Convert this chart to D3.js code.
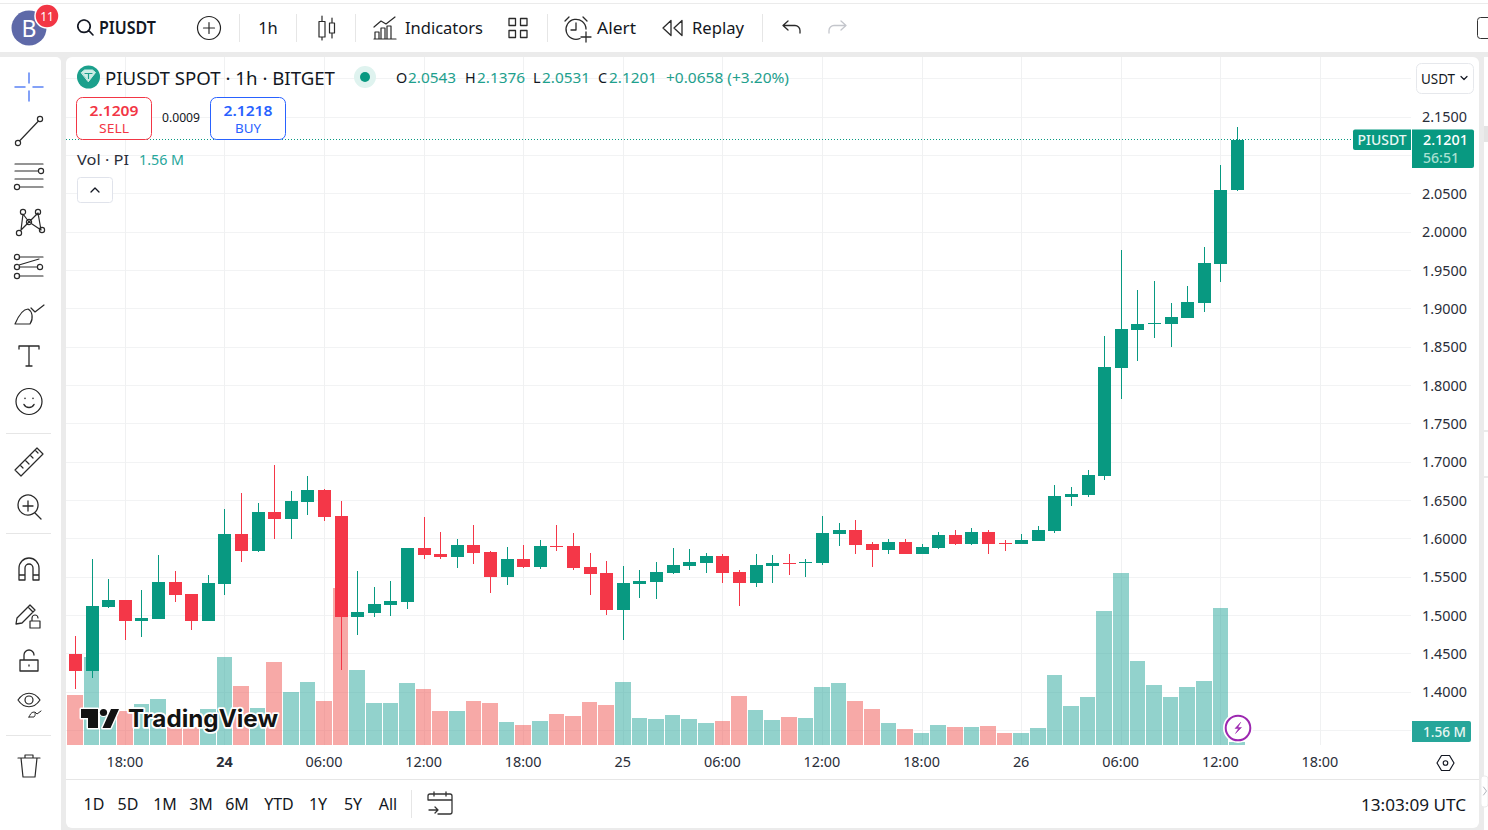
<!DOCTYPE html>
<html><head><meta charset="utf-8">
<script src="https://cdn.jsdelivr.net/npm/d3@7/dist/d3.min.js"></script>
<style>html,body{margin:0;padding:0;background:#ebebeb;overflow:hidden}svg{display:block}text{font-family:"Noto Sans",sans-serif}</style>
</head><body><svg id="c" width="1488" height="830"></svg>
<script>
const opens=[1.4499,1.4277,1.5112,1.5203,1.4929,1.4956,1.5438,1.5281,1.4929,1.5412,1.6064,1.5842,1.6351,1.6259,1.6481,1.6637,1.6298,1.4982,1.5034,1.5138,1.5177,1.5881,1.5803,1.5764,1.5920,1.5829,1.5503,1.5738,1.5633,1.5907,1.5907,1.5633,1.5555,1.5073,1.5412,1.5438,1.5555,1.5647,1.5686,1.5777,1.5568,1.5425,1.5647,1.5686,1.5686,1.5686,1.6064,1.6116,1.5933,1.5855,1.5959,1.5803,1.5881,1.6051,1.5933,1.6090,1.5946,1.5933,1.5972,1.6103,1.6546,1.6572,1.6820,1.8228,1.8723,1.8802,1.8802,1.8880,1.9076,1.9584,2.0543];
const highs=[1.4734,1.5738,1.5477,1.5203,1.5334,1.5790,1.5581,1.5281,1.5529,1.6390,1.6598,1.6468,1.6963,1.6624,1.6820,1.6650,1.6494,1.5581,1.5373,1.5451,1.5881,1.6285,1.6090,1.5999,1.6181,1.5842,1.5894,1.5920,1.5985,1.6181,1.6077,1.5816,1.5712,1.5647,1.5594,1.5699,1.5881,1.5868,1.5816,1.5803,1.5594,1.5803,1.5790,1.5803,1.5738,1.6298,1.6207,1.6246,1.5959,1.5999,1.5999,1.5933,1.6090,1.6116,1.6142,1.6116,1.5985,1.6064,1.6168,1.6703,1.6676,1.6898,1.8645,1.9766,1.9245,1.9362,1.9076,1.9297,1.9806,2.0875,2.1376];
const lows=[1.4043,1.4186,1.5099,1.4682,1.4721,1.4956,1.5177,1.4812,1.4929,1.5268,1.5699,1.5829,1.5999,1.5999,1.6311,1.6233,1.4291,1.4747,1.4982,1.4995,1.5086,1.5738,1.5738,1.5620,1.5673,1.5294,1.5399,1.5620,1.5607,1.5842,1.5594,1.5268,1.5008,1.4682,1.5229,1.5216,1.5542,1.5594,1.5555,1.5425,1.5125,1.5373,1.5425,1.5529,1.5503,1.5660,1.5907,1.5803,1.5633,1.5803,1.5803,1.5803,1.5868,1.5920,1.5920,1.5803,1.5842,1.5933,1.5972,1.6077,1.6429,1.6546,1.6768,1.7824,1.8319,1.8619,1.8502,1.8880,1.8958,1.9349,2.0531];
const closes=[1.4277,1.5125,1.5203,1.4929,1.4969,1.5438,1.5268,1.4929,1.5425,1.6064,1.5842,1.6351,1.6259,1.6494,1.6637,1.6285,1.4982,1.5047,1.5151,1.5190,1.5881,1.5790,1.5764,1.5920,1.5816,1.5503,1.5738,1.5633,1.5907,1.5894,1.5620,1.5542,1.5073,1.5425,1.5451,1.5568,1.5660,1.5699,1.5777,1.5555,1.5425,1.5660,1.5686,1.5673,1.5699,1.6077,1.6116,1.5920,1.5855,1.5959,1.5803,1.5894,1.6051,1.5933,1.6090,1.5933,1.5933,1.5985,1.6116,1.6559,1.6585,1.6833,1.8241,1.8736,1.8802,1.8815,1.8893,1.9089,1.9597,2.0549,2.1201];
const volumes=[23.6,41.6,13.7,16.1,19.4,21.8,8.5,8.5,17.0,41.6,27.9,17.5,39.3,25.1,29.8,20.8,74.3,35.5,19.9,19.9,29.3,26.5,16.1,16.1,20.8,19.9,10.9,9.5,11.4,14.7,13.7,20.3,18.9,29.8,12.8,12.3,14.2,12.3,10.4,11.4,23.2,16.6,11.8,13.2,12.8,27.4,29.3,20.8,17.0,10.4,7.6,5.7,9.5,8.5,8.5,9.0,5.7,5.7,8.0,33.1,18.4,22.7,63.4,81.4,39.7,28.4,22.7,27.4,30.3,64.8,1.56];
const volUp=[0,1,1,0,1,1,0,0,1,1,0,1,0,1,1,0,0,1,1,1,1,0,0,1,0,0,1,0,1,0,0,0,0,1,1,1,1,1,1,0,0,1,1,0,1,1,1,0,0,1,0,1,1,0,1,0,0,1,1,1,1,1,1,1,1,1,1,1,1,1,1];
const priceTicks=[2.15,2.05,2.00,1.95,1.90,1.85,1.80,1.75,1.70,1.65,1.60,1.55,1.50,1.45,1.40];
const priceGrid=[2.20,2.15,2.10,2.05,2.00,1.95,1.90,1.85,1.80,1.75,1.70,1.65,1.60,1.55,1.50,1.45,1.40,1.35];
const timeIdx=[3,9,15,21,27,33,39,45,51,57,63,69,75];
const timeLabels=["18:00","24","06:00","12:00","18:00","25","06:00","12:00","18:00","26","06:00","12:00","18:00"];
const lastPrice=2.1201;
const rangeLabels=["1D","5D","1M","3M","6M","YTD","1Y","5Y","All"];
const rangeX=[94,128,165,201,237,279,318,353,388];

const GREEN="#089981",RED="#f43748",INK="#131722",TXT="#2a2e39";
const svg=d3.select("#c");
const x=d3.scaleLinear().domain([0,70]).range([75.5,1237.4]);
const y=d3.scaleLinear().domain([1.40,2.15]).range([692.3,117]);
const vy=d3.scaleLinear().domain([0,1.56]).range([745,741.7]);
const px=v=>Math.round(v)+.5;

function T(s,xx,yy,o={}){
  const t=svg.append("text").attr("x",xx).attr("y",yy-1).text(s)
    .attr("font-size",o.s||14).attr("fill",o.c||TXT).attr("text-anchor",o.a||"start")
    .attr("dominant-baseline","central");
  if(o.w)t.attr("font-weight",o.w);
  if(o.l){t.attr("textLength",o.l).attr("lengthAdjust","spacingAndGlyphs");}
  return t;
}
function R(a,b,w,h,f,o={}){
  const r=svg.append("rect").attr("x",a).attr("y",b).attr("width",w).attr("height",h).attr("fill",f);
  if(o.r)r.attr("rx",o.r);
  if(o.st)r.attr("stroke",o.st);
  return r;
}
function I(cx,cy,d,o={}){
  return svg.append("path").attr("transform",`translate(${cx},${cy})`).attr("d",d)
   .attr("fill",o.f||"none").attr("stroke",o.c||"#2a2a2a").attr("stroke-width",o.sw||1.2)
   .attr("stroke-linejoin","round").attr("stroke-linecap","round");
}
// panels
R(0,0,1488,830,"#ebebeb");
R(0,0,1488,3,"#ffffff");
R(0,4,1488,48,"#ffffff");
svg.append("path").attr("d","M0,57H56a5,5 0 0 1 5,5V830H0Z").attr("fill","#fff");
R(66,57,1413,771,"#ffffff",{r:6});
R(1484,57,4,773,"#ffffff");
R(1484,126,4,16,"#e4e4e4");
[430,476].forEach(v=>R(1484,v,4,2,"#ebebeb"));
R(1481,776,7,31,"#ffffff",{r:3,st:"#ebebeb"});
I(1485,791,"M-1.5,-4L1.5,0L-1.5,4",{c:"#b2b5be",sw:1});

// grid
const g=svg.append("g").attr("shape-rendering","crispEdges");
g.selectAll(".h").data(priceGrid).join("line").attr("x1",66).attr("x2",1411)
 .attr("y1",d=>px(y(d)-.5)).attr("y2",d=>px(y(d)-.5)).attr("stroke","#f2f3f4");
g.selectAll(".v").data(timeIdx).join("line").attr("y1",57).attr("y2",745)
 .attr("x1",d=>px(x(d)-.5)).attr("x2",d=>px(x(d)-.5)).attr("stroke","#f0f1f2");

// volume
svg.append("g").attr("shape-rendering","crispEdges").selectAll("rect").data(volumes).join("rect")
 .attr("x",(d,i)=>Math.round(x(i)-8.3)).attr("width",(d,i)=>Math.round(x(i)+7.3)-Math.round(x(i)-8.3))
 .attr("y",d=>vy(d)).attr("height",d=>745-vy(d))
 .attr("fill",(d,i)=>volUp[i]?"#26a69a":"#ef5350").attr("fill-opacity",.5);

// candles
const cg=svg.append("g").attr("shape-rendering","crispEdges");
const idx=d3.range(opens.length);
cg.selectAll(".w").data(idx).join("rect")
 .attr("x",i=>Math.round(x(i)-.5)).attr("width",1)
 .attr("y",i=>y(highs[i])).attr("height",i=>y(lows[i])-y(highs[i]))
 .attr("fill",i=>closes[i]>=opens[i]?GREEN:RED);
cg.selectAll(".b").data(idx).join("rect")
 .attr("x",i=>Math.round(x(i)-.5)-6).attr("width",13)
 .attr("y",i=>y(Math.max(opens[i],closes[i])))
 .attr("height",i=>Math.max(1,Math.abs(y(opens[i])-y(closes[i]))))
 .attr("fill",i=>closes[i]>=opens[i]?GREEN:RED);

// price line
svg.append("line").attr("x1",66).attr("x2",1353).attr("y1",px(y(lastPrice)-.5)).attr("y2",px(y(lastPrice)-.5))
 .attr("stroke",GREEN).attr("stroke-dasharray","1 2");

// axes
const ya=svg.append("g").attr("transform","translate(1422,0)")
 .call(d3.axisRight(y).tickValues(priceTicks).tickFormat(d3.format(".4f")).tickSize(0).tickPadding(0));
ya.select(".domain").remove();
ya.selectAll("text").attr("x",0).attr("font-size",14.4).attr("fill",TXT).attr("font-family",'"Noto Sans",sans-serif');
const xa=svg.append("g").attr("transform","translate(-1,757)")
 .call(d3.axisBottom(x).tickValues(timeIdx).tickFormat((d,i)=>timeLabels[i]).tickSize(0).tickPadding(0));
xa.select(".domain").remove();
xa.selectAll("text").attr("font-size",14.4).attr("fill",TXT).attr("font-family",'"Noto Sans",sans-serif')
  .attr("font-weight",(d,i)=>timeLabels[i]=="24"?700:400);
R(66,779,1413,1,"#e6e6e6");

// tags
svg.append("path").attr("d","M1355,129.5H1411V150H1355a2,2 0 0 1 -2,-2V131.5a2,2 0 0 1 2,-2Z").attr("fill",GREEN);
T("PIUSDT",1382,140,{s:14,c:"#e8f7f3",a:"middle",l:49,w:500});
svg.append("path").attr("d","M1412,129.5H1472a2,2 0 0 1 2,2V166a2,2 0 0 1 -2,2H1412Z").attr("fill",GREEN);
T("2.1201",1423,140,{s:14.4,c:"#ffffff",l:45,w:500});
T("56:51",1423,158,{s:14.4,c:"#a8e0d2",l:36,w:500});
svg.append("path").attr("d","M1412,721H1469a2,2 0 0 1 2,2V740a2,2 0 0 1 -2,2H1412Z").attr("fill","#26a69a");
T("1.56 M",1423,732,{s:14.4,c:"#e8f7f3",l:43,w:500});

// USDT button
R(1416.5,63.5,57,30,"#fff",{r:5,st:"#e6e8ec"});
T("USDT",1421,79,{s:14.4,c:INK,l:34});
I(1464,78,"M-3,-1.5L0,1.5L3,-1.5",{c:"#131722",sw:1.2});

// legend
svg.append("circle").attr("cx",88.5).attr("cy",77).attr("r",11.5).attr("fill","#1ba08c");
I(88.5,76.5,"M-7,-4L-4,-6.5H4L7,-4L0,5Z",{f:"#cdeee6",c:"#cdeee6",sw:1});
I(88.5,76.5,"M-3.5,-3H3.5M0,-3V2",{c:"#1ba08c",sw:1.2});
T("PIUSDT SPOT · 1h · BITGET",105,78,{s:18.5,c:INK,l:230});
svg.append("circle").attr("cx",365).attr("cy",77).attr("r",11).attr("fill","#dff3ef");
svg.append("circle").attr("cx",365).attr("cy",77).attr("r",5).attr("fill",GREEN);
const LEG="#1ea08d";
T("O",396,78,{s:14.4,c:INK}); T("2.0543",408,78,{s:14.4,c:LEG,l:48});
T("H",465,78,{s:14.4,c:INK}); T("2.1376",477,78,{s:14.4,c:LEG,l:48});
T("L",533,78,{s:14.4,c:INK}); T("2.0531",542,78,{s:14.4,c:LEG,l:48});
T("C",598,78,{s:14.4,c:INK}); T("2.1201",609,78,{s:14.4,c:LEG,l:48});
T("+0.0658 (+3.20%)",666,78,{s:14.4,c:LEG,l:123});
// sell/buy
R(76.5,97.5,75,42,"#fff",{r:6,st:"#f23645"});
T("2.1209",114,111,{s:14.4,c:"#f23645",a:"middle",w:600,l:49});
T("SELL",114,129,{s:13,c:"#f23645",a:"middle",l:30});
T("0.0009",181,118.5,{s:12,c:INK,a:"middle",l:38});
R(210.5,97.5,75,42,"#fff",{r:6,st:"#2962ff"});
T("2.1218",248,111,{s:14.4,c:"#2962ff",a:"middle",w:600,l:49});
T("BUY",248,129,{s:13,c:"#2962ff",a:"middle",l:26});
T("Vol · PI",77,160,{s:14.4,c:TXT,l:52});
T("1.56 M",139,160,{s:14.4,c:"#26a69a",l:45});
R(77.5,177.5,35,25,"#fff",{r:3,st:"#e0e3eb"});
I(95,190,"M-4,2L0,-2L4,2",{c:"#131722",sw:1.3});

// TradingView logo
svg.append("path").attr("d","M81,709H98V728H88V718H81ZM111,709H119L110.5,728H102.5Z")
  .attr("fill","#131313").attr("stroke","#fff").attr("stroke-width",3).attr("paint-order","stroke").attr("stroke-linejoin","round");
svg.append("circle").attr("cx",103.5).attr("cy",712.5).attr("r",3.6).attr("fill","#131313").attr("stroke","#fff").attr("stroke-width",2).attr("paint-order","stroke");
const tv=T("TradingView",128,719.5,{s:24,c:"#131313",w:700,l:150}).style("font-family","Inter");
tv.attr("stroke","#fff").attr("stroke-width",3.5).style("paint-order","stroke fill").attr("stroke-linejoin","round");

// lightning
svg.append("circle").attr("cx",1238).attr("cy",728).attr("r",15).attr("fill","#fff");
svg.append("circle").attr("cx",1238).attr("cy",728).attr("r",12.3).attr("fill","#fff").attr("stroke","#9c27b0").attr("stroke-width",2);
I(1238,728,"M2.5,-5.5L-3,0.5H0.5L-2.5,5.5L3.5,-0.5H0Z",{f:"#9c27b0",c:"#9c27b0",sw:.5});

// settings hexagon
I(1445.5,763,"M-8.5,0L-4,-7.5H4L8.5,0L4,7.5H-4Z",{c:"#131722",sw:1.2});
svg.append("circle").attr("cx",1445.5).attr("cy",763).attr("r",2.3).attr("fill","none").attr("stroke","#131722").attr("stroke-width",1.1);

// bottom bar
rangeLabels.forEach((t,i)=>T(t,rangeX[i],805,{s:16,c:INK,a:"middle"}));
R(411,790,1,28,"#e6e6e6");
I(440,804,"M-12,-4V-8a2,2 0 0 1 2,-2H10a2,2 0 0 1 2,2V8a2,2 0 0 1 -2,2H-2M-12,-4H12M-6,-12V-8M6,-12V-8M-11,6H-2M-5,3L-2,6L-5,9",{sw:1.3,c:"#333"});
T("13:03:09 UTC",1466,805,{s:16.5,c:INK,a:"end",l:105});

// top toolbar
svg.append("circle").attr("cx",29).attr("cy",28).attr("r",17.5).attr("fill","#5e69a8");
T("B",29,29,{s:23,c:"#fff",a:"middle"});
svg.append("circle").attr("cx",47).attr("cy",16).attr("r",12).attr("fill","#f23645").attr("stroke","#fff").attr("stroke-width",1.5);
T("11",47,17,{s:12,c:"#fff",a:"middle"});
I(85,27,"M-1,-7a6.2,6.2 0 1 0 .01,0M3.6,3.4L8,8",{c:"#131722",sw:1.6});
T("PIUSDT",99,28,{s:17,c:INK,w:600,l:57});
svg.append("circle").attr("cx",209).attr("cy",28).attr("r",11.5).attr("fill","none").attr("stroke","#222").attr("stroke-width",1.2);
I(209,28,"M-5.5,0H5.5M0,-5.5V5.5",{});
[239,296,355,547,762].forEach(v=>R(v,14,1,28,"#e6e6e6"));
T("1h",268,28,{s:16.5,c:INK,a:"middle"});
I(322,28,"M-3,-6.5H3V9H-3ZM0,-12V-6.5M0,9V12",{});
I(332,28,"M-2.5,-5H2.5V5H-2.5ZM0,-10V-5M0,5V10",{});
I(385,28,"M-10,11V4H-6V11ZM-4,11V0H0V11ZM2,11V-2H6V11ZM-11,11H11M-11,-1L-4,-7L1,-4L10,-11",{});
T("Indicators",405,28,{s:16.5,c:INK,l:78});
I(518,28,"M-9,-9.5H-2.5V-2.5H-9ZM2.5,-9.5H9V-2.5H2.5ZM-9,2.5H-2.5V9.5H-9ZM2.5,2.5H9V9.5H2.5Z",{sw:1.3});
I(576,29,"M4,9.5A10,10 0 1 1 10,0M0,-6V1H-5M-11,-8L-7,-12M11,-8L7,-12M5,8H15M10,3V13",{sw:1.3});
T("Alert",597,28,{s:16.5,c:INK,l:39});
I(672,28,"M-1,-7.5L-9,0L-1,7.5ZM10,-7.5L2,0L10,7.5Z",{sw:1.3});
T("Replay",692,28,{s:16.5,c:INK,l:52});
I(791,27,"M-3,-6L-8,-1.5L-3,3M-8,-1.5H4a5,5 0 0 1 5,5V6",{sw:1.3});
I(838,27,"M3,-6L8,-1.5L3,3M8,-1.5H-4a5,5 0 0 0 -5,5V6",{sw:1.3,c:"#c4c6cc"});
R(1477.5,17.5,14,21,"#fff",{r:3,st:"#333"});

// left toolbar
const X=29;
I(X,87,"M-14,0H-4M4,0H14M0,-14V-4M0,4V14",{c:"#5b82f5",sw:1.5});
const dot=(a,b,r=2.6)=>`M${a+r},${b}a${r},${r} 0 1 0 ${-2*r},0a${r},${r} 0 1 0 ${2*r},0`;
I(X,131,"M-9.5,10L9.5,-10"+dot(-11,12)+dot(11,-12),{});
I(X,176,"M-14,-12H14M-14,-5H9M-14,3H14M-9,11H14"+dot(12,-5)+dot(-12,11),{});
I(X,221,"M-8,9L-6,-7L0,1L9,-8L12,9L0,1L-8,9"+dot(-10,12)+dot(-6,-9)+dot(0,1)+dot(9,-9)+dot(13,9),{});
I(X,266,"M-10,-9H14M-10,1H8M-10,10H14M-10,-1L10,-7"+dot(-12,-9)+dot(-12,1)+dot(-12,10)+dot(11,1),{});
I(X,312,"M-14,12H1C5,6 3,-1 -1,-3C-7,-3 -11,5 -14,12ZM2,-4L6,0L15,-7",{});
I(X,356,"M-10,-7V-10H10V-7M0,-10V10M-3,10H3",{sw:1.3});
svg.append("circle").attr("cx",X).attr("cy",401.5).attr("r",13).attr("fill","none").attr("stroke","#222").attr("stroke-width",1.2);
I(X,401.5,"M-4,-3V-3.2M4,-3V-3.2M-5,3C-3,7 3,7 5,3",{sw:1.5});
I(X,462,"M-14,8L8,-14L14,-8L-8,14ZM-9,3L-6,6M-4,-2L0,2M1,-7L4,-4M6,-12L9,-9",{sw:1.2});
I(X-1,506,"M10,0a10,10 0 1 0 -.01,.1M-5,0H5M0,-5V5M7,7L13,13",{sw:1.3});
I(X,569,"M-10,11V-1a10,10 0 0 1 20,0V11H4V-1a4,4 0 0 0 -8,0V11ZM-10,6H-4M4,6H10",{sw:1.3});
I(X-3,614,"M-10,10L-9,4L4,-9L9,-4L-4,9ZM2,-7L7,-2",{sw:1.3});
I(X+6,622,"M-5,-1H5V6H-5ZM-3,-1V-4a3,3 0 0 1 6,0",{sw:1.2});
I(X,661,"M-9,-1H9V10H-9ZM-5,-1V-6a5,5 0 0 1 10,0M0,4V5",{sw:1.3});
I(X,700,"M-11,0C-5,-9 5,-9 11,0C5,9 -5,9 -11,0Z",{sw:1.2});
svg.append("circle").attr("cx",X).attr("cy",700).attr("r",4).attr("fill","none").attr("stroke","#222").attr("stroke-width",1.2);
I(X+5,714,"M-5,3H0C2,1 1,-2 0,-2C-3,-2 -4,1 -5,3ZM1,-2L3,0L7,-3",{sw:1});
I(X,766,"M-11,-8H11M-8,-8L-6,11H6L8,-8M-4,-8V-11H4V-8",{sw:1.2});
[433,533,735].forEach(v=>R(6,v,45,1,"#e6e6e6"));
</script></body></html>
